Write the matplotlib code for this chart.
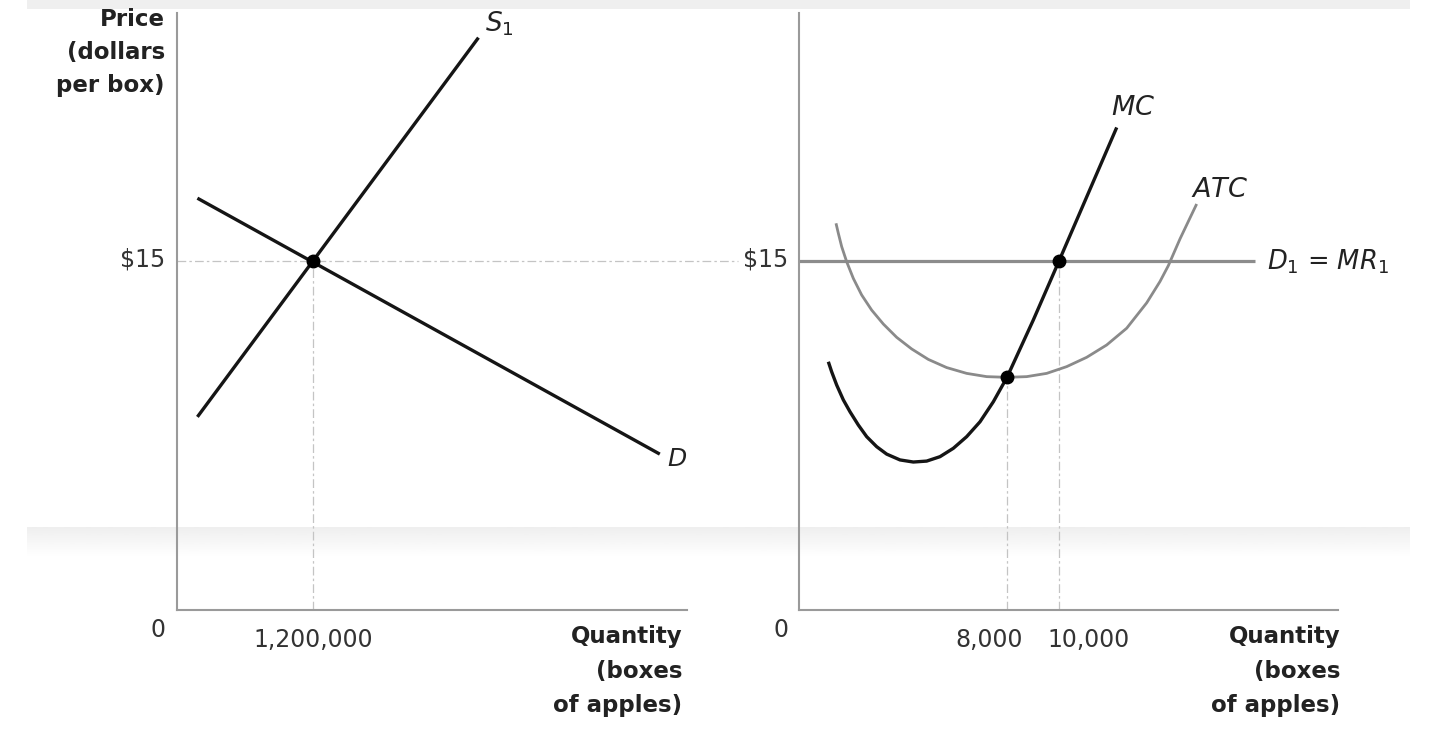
import matplotlib
matplotlib.use("Agg")
import matplotlib.pyplot as plt
from matplotlib.patches import Rectangle
import numpy as np

# ---------------- data ----------------
# Market (left panel)
supply_q = [180000, 2660000]
supply_p = [8.3, 24.6]
demand_q = [180000, 4260000]
demand_p = [17.7, 6.7]
market_eq_q = [1200000]
market_eq_p = [15]
market_xticks = [1200000]
market_xticklabels = ["1,200,000"]
price_ticks = [15]
price_ticklabels = ["\\$15"]

# Firm (right panel)
mc_q = [1128, 1256, 1449, 1705, 1962, 2282, 2603, 2987, 3372, 3885, 4397,
        4910, 5423, 5936, 6449, 6962, 7474, 8000, 9010, 10000, 12220]
mc_p = [10.67, 10.24, 9.67, 9.03, 8.52, 7.95, 7.45, 7.02, 6.70, 6.45, 6.36,
        6.40, 6.59, 6.95, 7.45, 8.09, 8.95, 10.0, 12.46, 15.0, 20.74]
atc_q = [1423, 1513, 1641, 1833, 2090, 2410, 2795, 3244, 3756, 4333, 4974,
         5679, 6449, 7218, 8000, 8756, 9526, 10295, 11064, 11833, 12603,
         13372, 13885, 14205, 14654, 15038, 15295]
atc_p = [16.62, 16.19, 15.62, 14.97, 14.25, 13.54, 12.89, 12.29, 11.72, 11.22,
         10.77, 10.42, 10.17, 10.03, 10.0, 10.03, 10.17, 10.46, 10.86, 11.39,
         12.11, 13.20, 14.12, 14.80, 15.95, 16.85, 17.45]
mr_q = [0, 17540]
mr_p = [15, 15]
firm_pts_q = [8000, 10000]
firm_pts_p = [10.0, 15.0]
firm_xticks = [8000, 10000]
firm_xticklabels = ["8,000", "10,000"]

# ---------------- figure ----------------
W, H = 1440, 749
plt.rcParams["font.family"] = ["DejaVu Sans"]
fig = plt.figure(figsize=(W / 100, H / 100), dpi=100)

def fx(x):
    return x / W

def fy(y):
    return 1 - y / H

# background bands (scan artefacts)
bg = fig.add_axes([0, 0, 1, 1], zorder=-10)
grad = np.linspace(0.935, 1.0, 60).reshape(-1, 1)
bg.imshow(grad, extent=(27, 1410, 557, 527), cmap="gray", vmin=0, vmax=1,
          aspect="auto", interpolation="bilinear")
bg.add_patch(Rectangle((27, 0), 1383, 9, color="#efefef", lw=0))
bg.set_xlim(0, W)
bg.set_ylim(H, 0)
bg.axis("off")

AX_COL = "#9a9a9a"
DASH_COL = "#c4c4c4"
DASH = (0, (7, 2.5, 2, 2.5))
TXT = "#222222"
TICK = "#333333"

px_per_price = (610 - 261) / 15.0
ytop = (610 - 13) / px_per_price

def style(ax):
    ax.patch.set_alpha(0)
    for s in ("top", "right"):
        ax.spines[s].set_visible(False)
    for s in ("left", "bottom"):
        ax.spines[s].set_color(AX_COL)
        ax.spines[s].set_linewidth(1.5)
    ax.set_xticks([])
    ax.set_yticks([])

line_kw = dict(solid_capstyle="butt", solid_joinstyle="round")

# ---- left panel ----
axL = fig.add_axes([fx(177), fy(610), (687 - 177) / W, (610 - 13) / H])
style(axL)
xmaxL = 4.5e6
axL.set_xlim(0, xmaxL)
axL.set_ylim(0, ytop)
xend = xmaxL * (738 - 177) / (687 - 177)
axL.plot([0, xend], [market_eq_p[0]] * 2, color=DASH_COL, lw=0.9, ls=DASH,
         clip_on=False, zorder=1)
axL.plot([market_eq_q[0]] * 2, [0, market_eq_p[0]], color=DASH_COL, lw=0.9,
         ls=DASH, zorder=1)
axL.plot(supply_q, supply_p, color="#151515", lw=2.4, zorder=3, **line_kw)
axL.plot(demand_q, demand_p, color="#151515", lw=2.4, zorder=3, **line_kw)
axL.plot(market_eq_q, market_eq_p, "o", color="black", ms=9, zorder=5)

for q, lab in zip(market_xticks, market_xticklabels):
    axL.annotate(lab, xy=(q, 0), xytext=(0, -37 * 0.72), textcoords="offset points",
                 ha="center", va="baseline", fontsize=17, color=TICK)
for p, lab in zip(price_ticks, price_ticklabels):
    axL.annotate(lab, xy=(0, p), xytext=(-12 * 0.72, -6 * 0.72), textcoords="offset points",
                 ha="right", va="baseline", fontsize=17, color=TICK)

# ---- right panel ----
axR = fig.add_axes([fx(799), fy(610), (1338 - 799) / W, (610 - 13) / H])
style(axR)
xmaxR = (1338 - 799) / 26.0 * 1000
axR.set_xlim(0, xmaxR)
axR.set_ylim(0, ytop)
for q, p in zip(firm_pts_q, firm_pts_p):
    axR.plot([q, q], [0, p], color=DASH_COL, lw=0.9, ls=DASH, zorder=1)
axR.plot(mr_q, mr_p, color="#8c8c8c", lw=2.3, zorder=2, **line_kw)
axR.plot(atc_q, atc_p, color="#8a8a8a", lw=2.0, zorder=3, **line_kw)
axR.plot(mc_q, mc_p, color="#151515", lw=2.4, zorder=4, **line_kw)
axR.plot(firm_pts_q, firm_pts_p, "o", color="black", ms=9, zorder=5)

shifts = [-18, 30]
for q, lab, dx in zip(firm_xticks, firm_xticklabels, shifts):
    axR.annotate(lab, xy=(q, 0), xytext=(dx * 0.72, -37 * 0.72), textcoords="offset points",
                 ha="center", va="baseline", fontsize=17, color=TICK)
for p, lab in zip(price_ticks, price_ticklabels):
    axR.annotate(lab, xy=(0, p), xytext=(-11 * 0.72, -6 * 0.72), textcoords="offset points",
                 ha="right", va="baseline", fontsize=17, color=TICK)

# zeros
fig.text(fx(158), fy(637), "0", ha="center", va="baseline", fontsize=17, color=TICK)
fig.text(fx(781), fy(637), "0", ha="center", va="baseline", fontsize=17, color=TICK)

# axis titles
for txt, yb in zip(["Price", "(dollars", "per box)"], [26, 59, 92]):
    fig.text(fx(165), fy(yb), txt, ha="right", va="baseline", fontsize=16.5,
             fontweight="bold", color=TXT)
for xr in (682, 1340):
    for txt, yb in zip(["Quantity", "(boxes", "of apples)"], [643, 678, 712]):
        fig.text(fx(xr), fy(yb), txt, ha="right", va="baseline", fontsize=16.5,
                 fontweight="bold", color=TXT)

# curve labels
fig.text(fx(485), fy(31), r"$S_{\mathregular{1}}$", ha="left", va="baseline",
         fontsize=19, color=TXT)
fig.text(fx(667), fy(466), r"$D$", ha="left", va="baseline", fontsize=18, color=TXT)
fig.text(fx(1111), fy(115), r"$MC$", ha="left", va="baseline", fontsize=19.5, color=TXT)
fig.text(fx(1191), fy(197), r"$ATC$", ha="left", va="baseline", fontsize=19.5, color=TXT)
fig.text(fx(1267), fy(269), r"$D_{\mathregular{1}}$ = $MR_{\mathregular{1}}$", ha="left",
         va="baseline", fontsize=18.5, color=TXT)

fig.savefig("out.png", dpi=100)
